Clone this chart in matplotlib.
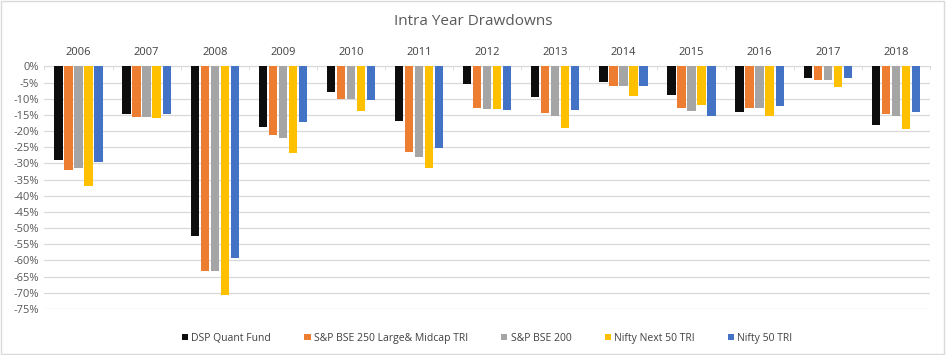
import numpy as np
import matplotlib.pyplot as plt
from matplotlib.ticker import FuncFormatter, MultipleLocator

years = ['2006', '2007', '2008', '2009', '2010', '2011', '2012',
         '2013', '2014', '2015', '2016', '2017', '2018']

series_names = ['DSP Quant Fund', 'S&P BSE 250 Large& Midcap TRI',
                'S&P BSE 200', 'Nifty Next 50 TRI', 'Nifty 50 TRI']
colors = ['#0d0d0d', '#ed7d31', '#a5a5a5', '#ffc000', '#4472c4']

# drawdowns in percent
dsp_quant = [-29.1, -14.8, -52.6, -18.6, -8.0, -17.0, -5.6, -9.6, -4.9, -9.0, -14.2, -3.7, -18.2]
bse250 = [-32.2, -15.8, -63.4, -21.3, -10.2, -26.6, -13.0, -14.5, -6.2, -13.0, -13.0, -4.3, -14.8]
bse200 = [-31.5, -15.8, -63.4, -22.0, -10.2, -28.1, -13.3, -15.5, -6.2, -13.9, -13.0, -4.3, -15.2]
nifty_next50 = [-37.1, -16.1, -70.8, -26.9, -13.9, -31.5, -13.3, -19.2, -9.3, -11.8, -15.5, -6.5, -19.5]
nifty50 = [-29.7, -14.8, -59.4, -17.3, -10.5, -25.4, -13.6, -13.6, -6.2, -15.2, -12.1, -3.7, -14.2]

all_series = [dsp_quant, bse250, bse200, nifty_next50, nifty50]

plt.rcParams['font.family'] = ['Open Sans', 'DejaVu Sans']

fig = plt.figure(figsize=(9.46, 3.55), dpi=100)
ax = fig.add_axes([0.047, 0.13, 0.936, 0.683])

x = np.arange(len(years))
step = 0.147
width = 0.122
for k, (vals, c, name) in enumerate(zip(all_series, colors, series_names)):
    ax.bar(x + (k - 2) * step, vals, width, color=c, label=name, zorder=3)

ax.set_xlim(-0.5, len(years) - 0.5)
ax.set_ylim(-75, 0)
ax.yaxis.set_major_locator(MultipleLocator(5))
ax.yaxis.set_major_formatter(FuncFormatter(lambda v, p: '%d%%' % round(v)))
ax.grid(axis='y', color='#d9d9d9', linewidth=0.9, zorder=0)

ax.xaxis.tick_top()
ax.set_xticks(x)
ax.set_xticklabels(years)
ax.set_xticks(np.arange(-0.5, len(years), 1), minor=True)
ax.tick_params(axis='x', which='major', length=0, pad=6, labelsize=8, labelcolor='#404040')
ax.tick_params(axis='x', which='minor', length=3, direction='in', color='#d9d9d9')
ax.tick_params(axis='y', length=0, labelsize=8, labelcolor='#595959', pad=4)

for s in ['left', 'right', 'bottom']:
    ax.spines[s].set_visible(False)
ax.spines['top'].set_color('#d9d9d9')

fig.text(0.5, 0.94, 'Intra Year Drawdowns', ha='center', va='center',
         fontsize=11, color='#595959')

ax.legend(loc='upper center', bbox_to_anchor=(0.5, -0.06), ncol=5, frameon=False,
          fontsize=7.5, handlelength=0.6, handleheight=0.6, columnspacing=3.2,
          handletextpad=0.3, labelcolor='#404040')

fig.patches.append(plt.Rectangle((0.001, 0.002), 0.997, 0.995, transform=fig.transFigure,
                                 fill=False, edgecolor='#d9d9d9', linewidth=1))

fig.savefig('out.png', dpi=100)
